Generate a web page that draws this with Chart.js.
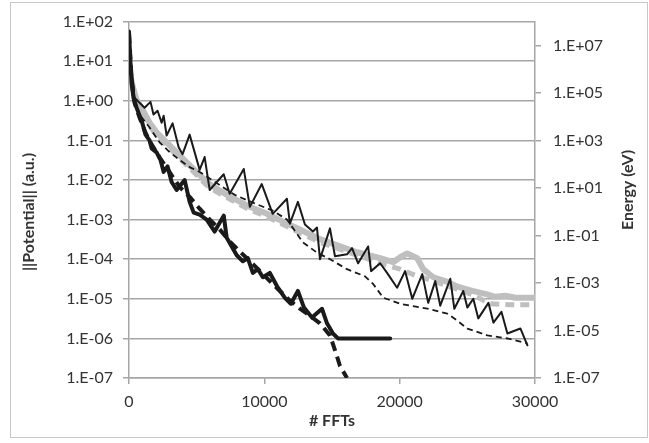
<!DOCTYPE html>
<html>
<head>
<meta charset="utf-8">
<script src="https://cdn.jsdelivr.net/npm/chart.js@4.4.1/dist/chart.umd.min.js"></script>
<style>
  html, body { margin: 0; padding: 0; background: #fff; }
  #wrap { width: 649px; height: 443px; }
</style>
</head>
<body>
<div id="wrap"><canvas id="chart" width="649" height="443"></canvas></div>
<script>
// x = number of FFTs, potential series on left axis, energy series on right axis
const thickSolidX = [0,110,190,330,560,930,1220,1520,1670,2040,2330,2560,2850,3150,3520,4110,4480,4780,5220,5740,6330,7000,7220,7960,8410,8780,9150,9520,9890,10410,10930,11520,11960,12480,12930,13520,14260,14630,15070,15440,19300];
const thickSolidY = [56,8.9,2.8,1.19,0.67,0.32,0.14,0.1,0.063,0.05,0.032,0.016,0.022,8.9e-3,5.6e-3,0.01,2.8e-3,1.5e-3,1.33e-3,1.0e-3,5.0e-4,1.26e-3,3.5e-4,1.26e-4,8.9e-5,1.06e-4,4.5e-5,5.6e-5,3.5e-5,4.5e-5,2.1e-5,1.06e-5,7.5e-6,1.58e-5,6.0e-6,3.35e-6,5.6e-6,2.4e-6,1.33e-6,1.0e-6,1.0e-6];

const thickDashX = [0,190,410,780,1220,1670,2260,3000,3740,4480,5220,5960,6700,7440,8190,8930,9670,10410,11150,11890,12630,13370,14110,14850,15220,15590,16110];
const thickDashY = [3.2e7,4.2e5,3.8e4,9.1e3,2.1e3,680,195,46,11,4.2,1.33,0.47,0.18,0.056,0.021,8.3e-3,3.2e-3,1.2e-3,4.6e-4,1.8e-4,8.3e-5,4.2e-5,2.0e-5,6.2e-6,1.5e-6,3.2e-7,1.0e-7];

const thinSolidX = [0,410,1150,1590,1810,2110,2410,2560,2780,3220,3670,3960,4480,5220,5590,5960,7000,7440,8480,8930,9810,10620,11670,11890,12480,13000,13590,13890,14110,14850,15220,16110,16480,16930,17670,17890,18560,19070,19810,20400,20930,21670,22110,22630,23000,23740,24040,24700,25000,25440,25810,26560,26930,27520,27960,28920,29440];
const thinSolidY = [30,1.19,0.67,0.94,0.45,0.56,0.28,0.42,0.133,0.27,0.067,0.045,0.14,0.018,0.038,5.6e-3,0.014,4.5e-3,0.019,2.1e-3,7.9e-3,1.4e-3,3.35e-3,7.9e-4,2.8e-3,7.5e-4,5.0e-4,6.3e-4,1.0e-4,6.0e-4,1.19e-4,1.33e-4,1.9e-4,7.9e-5,2.1e-4,5.0e-5,7.9e-5,4.5e-5,1.9e-5,5.0e-5,1.0e-5,4.2e-5,7.9e-6,2.8e-5,6.7e-6,3.2e-5,5.6e-6,1.58e-5,6.0e-6,1.0e-5,3.2e-6,7.9e-6,2.5e-6,4.7e-6,1.33e-6,1.78e-6,6.7e-7];

const thinDashX = [0,190,410,780,1520,2260,3000,3740,4480,5220,6700,7810,9150,10620,11670,12850,13890,14850,16110,17440,18040,18780,20040,22040,23520,24260,25000,26480,27960,29440];
const thinDashY = [2e7,2.6e5,3.8e4,1.2e4,3.5e3,830,320,150,75,47,13.3,5.1,2.4,1.1,0.47,0.051,0.019,0.01,3.8e-3,1.9e-3,9.1e-4,2.4e-4,1.33e-4,8.3e-5,5.1e-5,2.6e-5,1.2e-5,6.2e-6,4.6e-6,2.9e-6];

const graySolidX = [0,260,560,1000,1520,2040,2780,3520,4260,5000,5740,6480,7670,8930,10190,11370,12630,14110,15590,16850,18560,19520,20040,20560,21300,21740,22480,23370,24330,25370,26330,27070,27810,28560,30000];
const graySolidY = [6.7,2.4,1.06,0.6,0.28,0.16,0.089,0.05,0.028,0.016,8.9e-3,6.0e-3,3.5e-3,2.1e-3,1.4e-3,8.9e-4,5.6e-4,3.2e-4,2.1e-4,1.5e-4,1.06e-4,8.4e-5,1.12e-4,1.4e-4,1.06e-4,5.6e-5,3.5e-5,2.8e-5,2.0e-5,1.58e-5,1.33e-5,1.12e-5,1.19e-5,1.06e-5,1.06e-5];

const grayDashX = [0,260,560,1000,1520,2040,2780,3520,4260,5000,5740,6480,7670,8930,10190,11370,12630,14110,15590,16850,18560,20040,21150,22260,23740,25220,26700,28190,30000];
const grayDashY = [8.3e5,1.5e5,3.8e4,1.5e4,4.2e3,1.6e3,620,240,91,35,13,6.8,2.9,1.2,0.62,0.29,0.13,0.051,0.026,0.015,6.8e-3,3.8e-3,2.1e-3,1.33e-3,6.8e-4,3.5e-4,1.33e-4,1.2e-4,1.2e-4];

const leftTicks = [1e-7,1e-6,1e-5,1e-4,1e-3,1e-2,1e-1,1e0,1e1,1e2];
const rightTicks = [1e-7,1e-5,1e-3,1e-1,1e1,1e3,1e5,1e7];
const xTicks = [0,10000,20000,30000];

function pts(xs, ys) {
    return xs.map((x, i) => ({ x: x, y: ys[i] }));
}

function sci(v) {
    const e = Math.round(Math.log10(v));
    return '1.E' + (e < 0 ? '-' : '+') + String(Math.abs(e)).padStart(2, '0');
}

const axisGray = '#a6a6a6';
const textColor = '#333333';
const tickFont = { family: 'Lato', size: 16 };

const decor = {
    id: 'decor',
    beforeDraw(chart) {
        const ctx = chart.ctx;
        ctx.save();
        ctx.strokeStyle = '#c8c8c8';
        ctx.lineWidth = 1;
        ctx.strokeRect(10.5, 2.5, 637, 435);
        ctx.restore();
    },
    afterDraw(chart) {
        const ctx = chart.ctx;
        ctx.save();
        ctx.fillStyle = textColor;
        ctx.font = 'bold 16px Lato';
        ctx.textAlign = 'center';
        ctx.textBaseline = 'middle';
        ctx.fillText('# FFTs', 332, 421);
        ctx.translate(29, 212);
        ctx.rotate(-Math.PI / 2);
        ctx.fillText('||Potential|| (a.u.)', 0, 0);
        ctx.restore();
        ctx.save();
        ctx.fillStyle = textColor;
        ctx.font = 'bold 16px Lato';
        ctx.textAlign = 'center';
        ctx.textBaseline = 'middle';
        ctx.translate(628, 190);
        ctx.rotate(-Math.PI / 2);
        ctx.fillText('Energy (eV)', 0, 0);
        ctx.restore();
    }
};

const ctx = document.getElementById('chart').getContext('2d');
new Chart(ctx, {
    type: 'scatter',
    data: {
        datasets: [
            { data: pts(thickSolidX, thickSolidY), yAxisID: 'y', borderColor: '#1a1a1a', borderWidth: 4, order: 1 },
            { data: pts(thickDashX, thickDashY), yAxisID: 'y2', borderColor: '#1a1a1a', borderWidth: 4, borderDash: [10, 6], borderCapStyle: 'butt', order: 2 },
            { data: pts(thinSolidX, thinSolidY), yAxisID: 'y', borderColor: '#1a1a1a', borderWidth: 2, order: 3 },
            { data: pts(thinDashX, thinDashY), yAxisID: 'y2', borderColor: '#1a1a1a', borderWidth: 1.8, borderDash: [6, 4], borderCapStyle: 'butt', order: 4 },
            { data: pts(graySolidX, graySolidY), yAxisID: 'y', borderColor: '#bfbfbf', borderWidth: 6, order: 5 },
            { data: pts(grayDashX, grayDashY), yAxisID: 'y2', borderColor: '#bfbfbf', borderWidth: 5, borderDash: [9, 6], borderCapStyle: 'butt', order: 6 }
        ].map(d => Object.assign({
            showLine: true,
            pointRadius: 0,
            tension: 0,
            fill: false,
            borderJoinStyle: 'round',
            borderCapStyle: 'round'
        }, d))
    },
    options: {
        responsive: false,
        animation: false,
        devicePixelRatio: 1,
        layout: { padding: { top: 18, left: 0, right: 0, bottom: 0 } },
        plugins: {
            legend: { display: false },
            tooltip: { enabled: false }
        },
        scales: {
            x: {
                type: 'linear',
                min: 0,
                max: 30000,
                afterBuildTicks: s => { s.ticks = xTicks.map(v => ({ value: v })); },
                afterFit: s => { s.height = 65; },
                ticks: { font: tickFont, color: textColor, padding: 8, maxRotation: 0, callback: v => String(v) },
                grid: { display: true, drawOnChartArea: false, drawTicks: true, tickLength: 6, color: axisGray, lineWidth: 1.5 },
                border: { color: axisGray, width: 1.5 }
            },
            y: {
                type: 'logarithmic',
                position: 'left',
                min: 1e-7,
                max: 100,
                afterBuildTicks: s => { s.ticks = leftTicks.map(v => ({ value: v })); },
                afterFit: s => { s.width = 129; },
                ticks: { font: tickFont, color: textColor, padding: 10, callback: v => sci(v) },
                grid: { color: axisGray, lineWidth: 1.5, tickLength: 6 },
                border: { color: axisGray, width: 1.5 }
            },
            y2: {
                type: 'logarithmic',
                position: 'right',
                min: 1e-7,
                max: 1e8,
                afterBuildTicks: s => { s.ticks = rightTicks.map(v => ({ value: v })); },
                afterFit: s => { s.width = 114; },
                ticks: { font: tickFont, color: textColor, padding: 12, callback: v => sci(v) },
                grid: { drawOnChartArea: false, color: axisGray, lineWidth: 1.5, tickLength: 6 },
                border: { color: axisGray, width: 1.5 }
            }
        }
    },
    plugins: [decor]
});
</script>
</body>
</html>
